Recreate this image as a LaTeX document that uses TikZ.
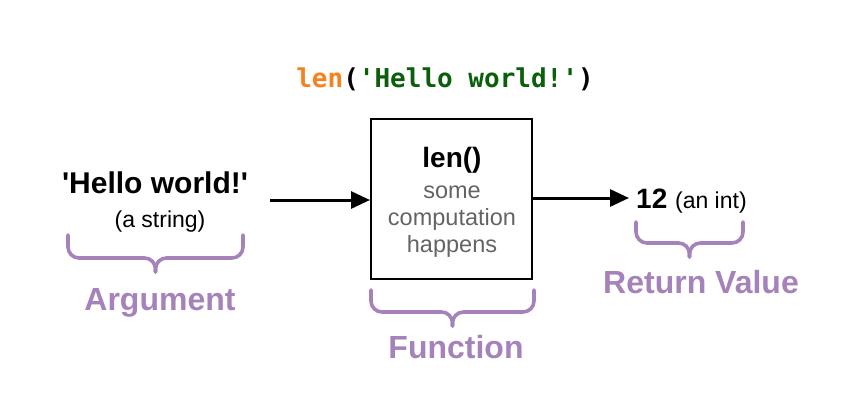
\documentclass[tikz,border=0pt]{standalone}
\usepackage{fontspec}
\setmainfont{Liberation Sans}
\newfontfamily\codefont{DejaVu Sans Mono}
\usetikzlibrary{arrows.meta}
\definecolor{purp}{RGB}{166,130,186}
\definecolor{codeorange}{RGB}{245,130,31}
\definecolor{codegreen}{RGB}{10,95,10}
\definecolor{graytext}{RGB}{100,100,100}
\tikzset{
  bracestyle/.style={draw=purp, line width=3.6pt, rounded corners=11pt, line cap=round},
  labelstyle/.style={text=purp, font=\fontsize{32}{36}\selectfont\bfseries, anchor=base, inner sep=0pt},
  arrowstyle/.style={line width=3pt, -{Triangle[length=19pt,width=17pt]}},
  txt/.style={anchor=base, inner sep=0pt},
}
\begin{document}
\begin{tikzpicture}[x=1pt,y=-1pt]
\useasboundingbox (0,0) rectangle (848,410);
% code line
\node[txt] (code) at (445,87) {\codefont\bfseries\fontsize{26}{30}\selectfont\textcolor{codeorange}{len}(\textcolor{codegreen}{\textquotesingle Hello world!\textquotesingle})};
% function box
\node[draw, line width=2pt, minimum width=161pt, minimum height=160pt, inner sep=0pt] (fn) at (451.5,199) {};
\node[txt, font=\fontsize{28}{32}\selectfont\bfseries] (lenf) at (452,167) {len()};
\node[txt, text=graytext, font=\fontsize{23.5}{27}\selectfont] (l1) at (452,198) {some};
\node[txt, text=graytext, font=\fontsize{23.5}{27}\selectfont] (l2) at (452,225) {computation};
\node[txt, text=graytext, font=\fontsize{23.5}{27}\selectfont] (l3) at (452,252) {happens};
% argument
\node[txt, font=\fontsize{30}{34}\selectfont\bfseries] (arg) at (155,193) {\textquotesingle Hello world!\textquotesingle};
\node[txt, font=\fontsize{23}{27}\selectfont] (argt) at (160,227) {(a string)};
% return
\node[txt, anchor=base west] (ret) at (636,208) {\fontsize{28}{32}\selectfont\bfseries 12\ \fontsize{23}{27}\selectfont\mdseries (an int)};
% arrows
\coordinate (a1) at (270,200);
\coordinate (a2) at (629,198);
\draw[arrowstyle] (a1) -- (a1 -| fn.west);
\draw[arrowstyle] (a2 -| fn.east) -- (a2);
% braces
\draw[bracestyle] (68,235) -- (68,258) -- (155.5,258) -- (155.5,272);
\draw[bracestyle] (243,235) -- (243,258) -- (155.5,258) -- (155.5,272);
\draw[bracestyle] (371,290) -- (371,312) -- (452.5,312) -- (452.5,326);
\draw[bracestyle] (534,290) -- (534,312) -- (452.5,312) -- (452.5,326);
\draw[bracestyle] (636,222) -- (636,243) -- (689.5,243) -- (689.5,257);
\draw[bracestyle] (743,222) -- (743,243) -- (689.5,243) -- (689.5,257);
% labels
\node[labelstyle] (argl) at (160,310) {Argument};
\node[labelstyle] (fnl) at (456,358) {Function};
\node[labelstyle] (retl) at (701,293) {Return Value};
\end{tikzpicture}
\end{document}
